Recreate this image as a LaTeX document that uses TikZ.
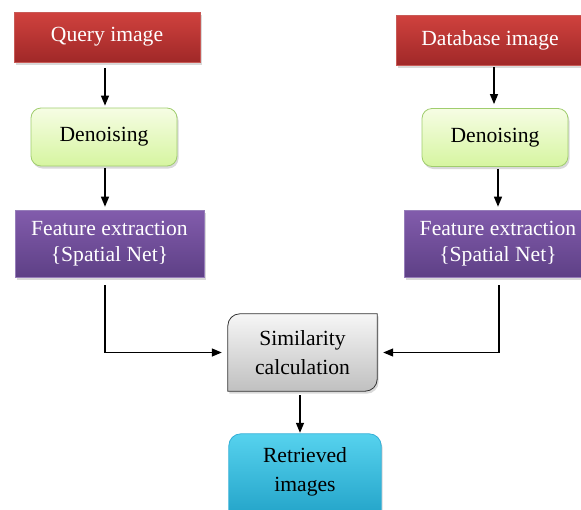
\documentclass[tikz,border=0pt]{standalone}
\usepackage{fontspec}
\setmainfont{Liberation Serif}
\usetikzlibrary{arrows.meta,shadows,backgrounds}
\definecolor{redT}{RGB}{208,66,62}
\definecolor{redB}{RGB}{160,40,40}
\definecolor{redL}{RGB}{200,90,86}
\definecolor{grnT}{RGB}{246,253,228}
\definecolor{grnB}{RGB}{214,245,160}
\definecolor{grnL}{RGB}{160,205,110}
\definecolor{purT}{RGB}{130,92,172}
\definecolor{purB}{RGB}{94,64,134}
\definecolor{purL}{RGB}{150,125,185}
\definecolor{gryT}{RGB}{246,246,246}
\definecolor{gryB}{RGB}{192,192,192}
\definecolor{gryL}{RGB}{50,50,50}
\definecolor{cyaT}{RGB}{86,210,238}
\definecolor{cyaB}{RGB}{20,150,190}
\definecolor{cyaL}{RGB}{50,175,215}
\begin{document}
\begin{tikzpicture}[x=1pt,y=-1pt,
  font=\fontsize{21.6}{26}\selectfont,
  shad/.style={drop shadow={opacity=0.3,shadow xshift=1.5pt,shadow yshift=-2.5pt}},
  box/.style={rectangle,inner sep=0pt,align=center,shad},
  redbox/.style={box,top color=redT,bottom color=redB,draw=redL,line width=0.6pt,text=white,minimum height=50pt},
  grnbox/.style={box,rounded corners=10pt,top color=grnT,bottom color=grnB,draw=grnL,line width=0.8pt,text=black,minimum width=146pt,minimum height=58pt},
  purbox/.style={box,top color=purT,bottom color=purB,draw=purL,line width=0.6pt,text=white,minimum height=67pt},
  txtbox/.style={rectangle,inner sep=0pt,align=center,font=\fontsize{21.6}{29}\selectfont},
  arr/.style={-{Triangle[length=10pt,width=8pt]},line width=1.3pt,black}]
\useasboundingbox (0,0) rectangle (581,509);

% left column
\node[redbox,minimum width=186pt] (q) at (107,37) {Query image};
\node[grnbox] (dn1) at (104,137) {Denoising};
\node[purbox,minimum width=189pt] (f1) at (109.5,243.5) {Feature extraction\\\{Spatial Net\}};

% right column
\node[redbox,minimum width=188pt] (d) at (490,40) {Database image};
\node[grnbox] (dn2) at (495,137.5) {Denoising};
\node[purbox,minimum width=188pt] (f2) at (498,243.5) {Feature extraction\\\{Spatial Net\}};

% similarity
\node[txtbox,minimum width=149pt,minimum height=77pt] (sim) at (302.5,352.5) {Similarity\\calculation};
\node[txtbox,minimum width=152pt,minimum height=76pt] (ret) at (305,472) {Retrieved\\images};

\begin{scope}[on background layer]
\shade[shad,top color=gryT,bottom color=gryB,draw=gryL,line width=0.8pt]
  (sim.south west) -- ([yshift=-12pt]sim.north west)
  arc[start angle=180,end angle=90,radius=12pt]
  -- (sim.north east) -- ([yshift=12pt]sim.south east)
  arc[start angle=0,end angle=-90,radius=12pt] -- cycle;
\shade[shad,top color=cyaT,bottom color=cyaB,draw=cyaL,line width=0.8pt]
  ([yshift=-30pt]ret.south west) -- ([yshift=-12pt]ret.north west)
  arc[start angle=180,end angle=90,radius=12pt]
  -- ([xshift=-12pt]ret.north east)
  arc[start angle=90,end angle=0,radius=12pt]
  -- ([yshift=-30pt]ret.south east) -- cycle;
\end{scope}

% arrows left
\draw[arr] ([xshift=-2pt,yshift=-6pt]q.south) -- ([xshift=1pt,yshift=2pt]dn1.north);
\draw[arr] ([xshift=1pt,yshift=-2pt]dn1.south) -- ([xshift=1pt,yshift=3pt]dn1.south |- f1.north);
% arrows right
\draw[arr] ([xshift=4pt,yshift=-2pt]d.south) -- ([xshift=-1pt,yshift=4pt]dn2.north);
\draw[arr] ([xshift=3pt,yshift=-2pt]dn2.south) -- ([xshift=3pt,yshift=3pt]dn2.south |- f2.north);
% to similarity
\draw[arr] ([xshift=-4.5pt,yshift=-8pt]f1.south) |- ([xshift=-6pt]sim.west);
\draw[arr] ([xshift=1pt,yshift=-8pt]f2.south) |- ([xshift=6pt]sim.east);
\draw[arr] ([xshift=-2.5pt,yshift=-4pt]sim.south) -- ([xshift=-5pt,yshift=1pt]ret.north);
\end{tikzpicture}
\end{document}
